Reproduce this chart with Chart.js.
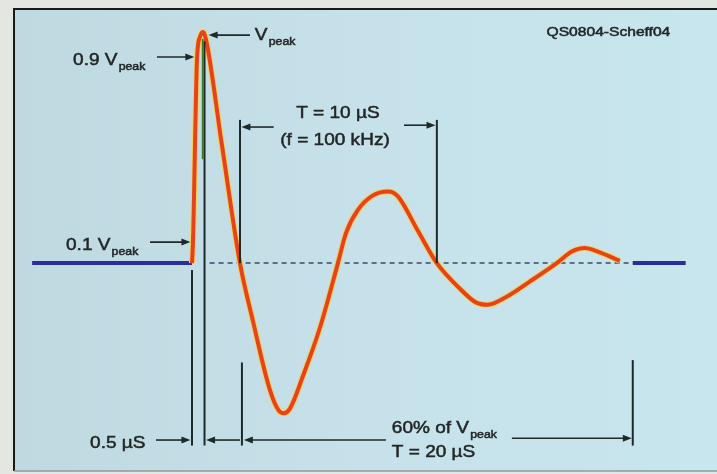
<!DOCTYPE html>
<html>
<head>
<meta charset="utf-8">
<script src="https://cdn.jsdelivr.net/npm/chart.js@4.4.1/dist/chart.umd.min.js"></script>
<style>
  html, body { margin: 0; padding: 0; background: #e4e6e2; }
  canvas { display: block; }
</style>
</head>
<body>
<canvas id="ring-wave" width="717" height="474"></canvas>
<script>
// ring wave: time in microseconds, voltage as a fraction of Vpeak
const waveTime = [0, 0.05, 0.26, 0.41, 0.56, 0.71, 1.53, 2.45, 3.11, 3.98, 4.44, 4.69, 5.0, 5.66, 6.53,
  7.45, 7.86, 8.47, 9.18, 10.0, 10.5, 11.53, 12.5, 13.67, 14.49, 15.1, 15.97, 17.24, 18.62, 19.39, 20.05, 20.71, 21.84];
const waveVolt = [0, 0.09, 0.89, 0.98, 1.0, 0.97, 0.51, 0, -0.25, -0.55, -0.64, -0.65, -0.63, -0.49, -0.28,
  0, 0.13, 0.23, 0.29, 0.31, 0.29, 0.14, 0, -0.11, -0.17, -0.18, -0.15, -0.08, 0, 0.05, 0.065, 0.05, 0.01];
const preTime = [-8.16, 0];
const postTime = [22.5, 25.2];
const zeroTime = [0.9, 22.5];

const toPoints = (xs, ys) => xs.map((x, i) => ({ x: x, y: ys[i] }));
const flat = (xs) => xs.map((x) => ({ x: x, y: 0 }));

const RED = "#e6431b";
const BLUE = "#2a2d9c";
const INK = "#1e2a2a";
const TEXT = "#232627";

// markers and labels, in data units (t in µs, v in Vpeak)
const vLines = [
  { t: 0, from: -0.03, to: -0.79 },
  { t: 0.64, from: 0.96, to: -0.79 },
  { t: 2.45, from: 0.62, to: 0 },
  { t: 2.55, from: -0.43, to: -0.79 },
  { t: 12.5, from: 0.62, to: 0 },
  { t: 22.5, from: -0.42, to: -0.79 },
];
const arrows = [
  { from: 2.96, to: 0.85, v: 0.987 },
  { from: -1.79, to: 0.12, v: 0.892 },
  { from: -2.14, to: -0.08, v: 0.091 },
  { from: -1.84, to: -0.08, v: -0.766 },
  { from: 2.45, to: 0.72, v: -0.766 },
  { from: 9.9, to: 2.65, v: -0.766 },
  { from: 16.33, to: 22.45, v: -0.758 },
  { from: 4.17, to: 2.52, v: 0.589 },
  { from: 10.82, to: 12.43, v: 0.597 },
];
const labels = [
  { t: 3.21, v: 0.965, main: "V", sub: "peak", align: "left" },
  { t: -6.07, v: 0.857, main: "0.9 V", sub: "peak", align: "left" },
  { t: -6.43, v: 0.056, main: "0.1 V", sub: "peak", align: "left" },
  { t: -5.2, v: -0.8, main: "0.5 µS", align: "left" },
  { t: 7.45, v: 0.628, main: "T = 10 µS", align: "center" },
  { t: 7.3, v: 0.511, main: "(f = 100 kHz)", align: "center" },
  { t: 10.2, v: -0.736, main: "60% of V", sub: "peak", align: "left" },
  { t: 10.2, v: -0.84, main: "T = 20 µS", align: "left" },
];

function drawText(ctx, x, y, main, sub, align, size, stretch) {
  const bigFont = size + "px 'Liberation Sans', Arial, sans-serif";
  const smallFont = Math.round(size * 0.62) + "px 'Liberation Sans', Arial, sans-serif";
  ctx.save();
  ctx.font = bigFont;
  const mainW = ctx.measureText(main).width;
  ctx.font = smallFont;
  const subW = sub ? ctx.measureText(sub).width + 2 : 0;
  const total = (mainW + subW) * stretch;
  let x0 = x;
  if (align === "center") x0 = x - total / 2;
  ctx.translate(x0, y);
  ctx.scale(stretch, 1);
  ctx.fillStyle = TEXT;
  ctx.strokeStyle = TEXT;
  ctx.lineWidth = 0.5;
  ctx.textBaseline = "alphabetic";
  ctx.textAlign = "left";
  ctx.font = bigFont;
  ctx.fillText(main, 0, 0);
  ctx.strokeText(main, 0, 0);
  if (sub) {
    ctx.font = smallFont;
    ctx.fillText(sub, mainW + 1, 5);
    ctx.strokeText(sub, mainW + 1, 5);
  }
  ctx.restore();
}

const panelPlugin = {
  id: "panel",
  beforeDraw(chart) {
    const ctx = chart.ctx;
    ctx.save();
    ctx.fillStyle = "#e4e6e2";
    ctx.fillRect(0, 0, chart.width, chart.height);
    const g = ctx.createLinearGradient(14, 0, chart.width, 0);
    g.addColorStop(0, "#bfd9e1");
    g.addColorStop(0.5, "#c6e1e9");
    g.addColorStop(1, "#c8e6ee");
    ctx.fillStyle = g;
    ctx.fillRect(14, 8, chart.width - 14, 463);
    ctx.strokeStyle = "#1a1a1a";
    ctx.lineWidth = 2;
    ctx.beginPath();
    ctx.moveTo(14, 471);
    ctx.lineTo(14, 9);
    ctx.lineTo(chart.width, 9);
    ctx.stroke();
    ctx.strokeStyle = "#8f9a9c";
    ctx.lineWidth = 1.5;
    ctx.beginPath();
    ctx.moveTo(14, 471);
    ctx.lineTo(chart.width, 471);
    ctx.stroke();
    ctx.restore();
  },
};

const notesPlugin = {
  id: "notes",
  afterDatasetsDraw(chart) {
    const ctx = chart.ctx;
    const sx = chart.scales.x;
    const sy = chart.scales.y;
    ctx.save();
    ctx.strokeStyle = INK;
    ctx.fillStyle = INK;
    ctx.lineWidth = 2;
    vLines.forEach((l) => {
      ctx.beginPath();
      ctx.moveTo(sx.getPixelForValue(l.t), sy.getPixelForValue(l.from));
      ctx.lineTo(sx.getPixelForValue(l.t), sy.getPixelForValue(l.to));
      ctx.stroke();
    });
    // green tint where the marker overlaps the peak
    ctx.strokeStyle = "#3c7a2c";
    ctx.beginPath();
    ctx.moveTo(sx.getPixelForValue(0.55), sy.getPixelForValue(0.97));
    ctx.lineTo(sx.getPixelForValue(0.55), sy.getPixelForValue(0.45));
    ctx.stroke();

    ctx.strokeStyle = INK;
    ctx.lineWidth = 1.6;
    arrows.forEach((a) => {
      const x1 = sx.getPixelForValue(a.from);
      const x2 = sx.getPixelForValue(a.to);
      const y = sy.getPixelForValue(a.v);
      const dir = x2 > x1 ? 1 : -1;
      ctx.beginPath();
      ctx.moveTo(x1, y);
      ctx.lineTo(x2 - dir * 6, y);
      ctx.stroke();
      ctx.beginPath();
      ctx.moveTo(x2, y);
      ctx.lineTo(x2 - dir * 9, y - 3.5);
      ctx.lineTo(x2 - dir * 9, y + 3.5);
      ctx.closePath();
      ctx.fill();
    });

    labels.forEach((lb) => {
      drawText(ctx, sx.getPixelForValue(lb.t), sy.getPixelForValue(lb.v), lb.main, lb.sub, lb.align, 17, 1.12);
    });
    drawText(ctx, sx.getPixelForValue(18.1), sy.getPixelForValue(0.983), "QS0804-Scheff04", null, "left", 12, 1.3);
    ctx.restore();
  },
};

new Chart(document.getElementById("ring-wave"), {
  type: "scatter",
  data: {
    datasets: [
      {
        label: "ring wave",
        data: toPoints(waveTime, waveVolt),
        showLine: true,
        borderColor: RED,
        borderWidth: 4,
        cubicInterpolationMode: "monotone",
        pointRadius: 0,
      },
      {
        label: "halo",
        data: toPoints(waveTime, waveVolt),
        showLine: true,
        borderColor: "#f1d35e",
        borderWidth: 6,
        cubicInterpolationMode: "monotone",
        pointRadius: 0,
      },
      {
        label: "before",
        data: flat(preTime),
        showLine: true,
        borderColor: BLUE,
        borderWidth: 4,
        pointRadius: 0,
      },
      {
        label: "after",
        data: flat(postTime),
        showLine: true,
        borderColor: BLUE,
        borderWidth: 4,
        pointRadius: 0,
      },
      {
        label: "zero",
        data: flat(zeroTime),
        showLine: true,
        borderColor: "#3b4a68",
        borderWidth: 1.5,
        borderDash: [5, 4],
        pointRadius: 0,
      },
    ],
  },
  options: {
    responsive: false,
    animation: false,
    layout: { padding: 0 },
    plugins: { legend: { display: false }, tooltip: { enabled: false } },
    scales: {
      x: { type: "linear", min: -9.8, max: 26.8, display: false },
      y: { type: "linear", min: -0.913, max: 1.139, display: false },
    },
  },
  plugins: [panelPlugin, notesPlugin],
});
</script>
</body>
</html>
